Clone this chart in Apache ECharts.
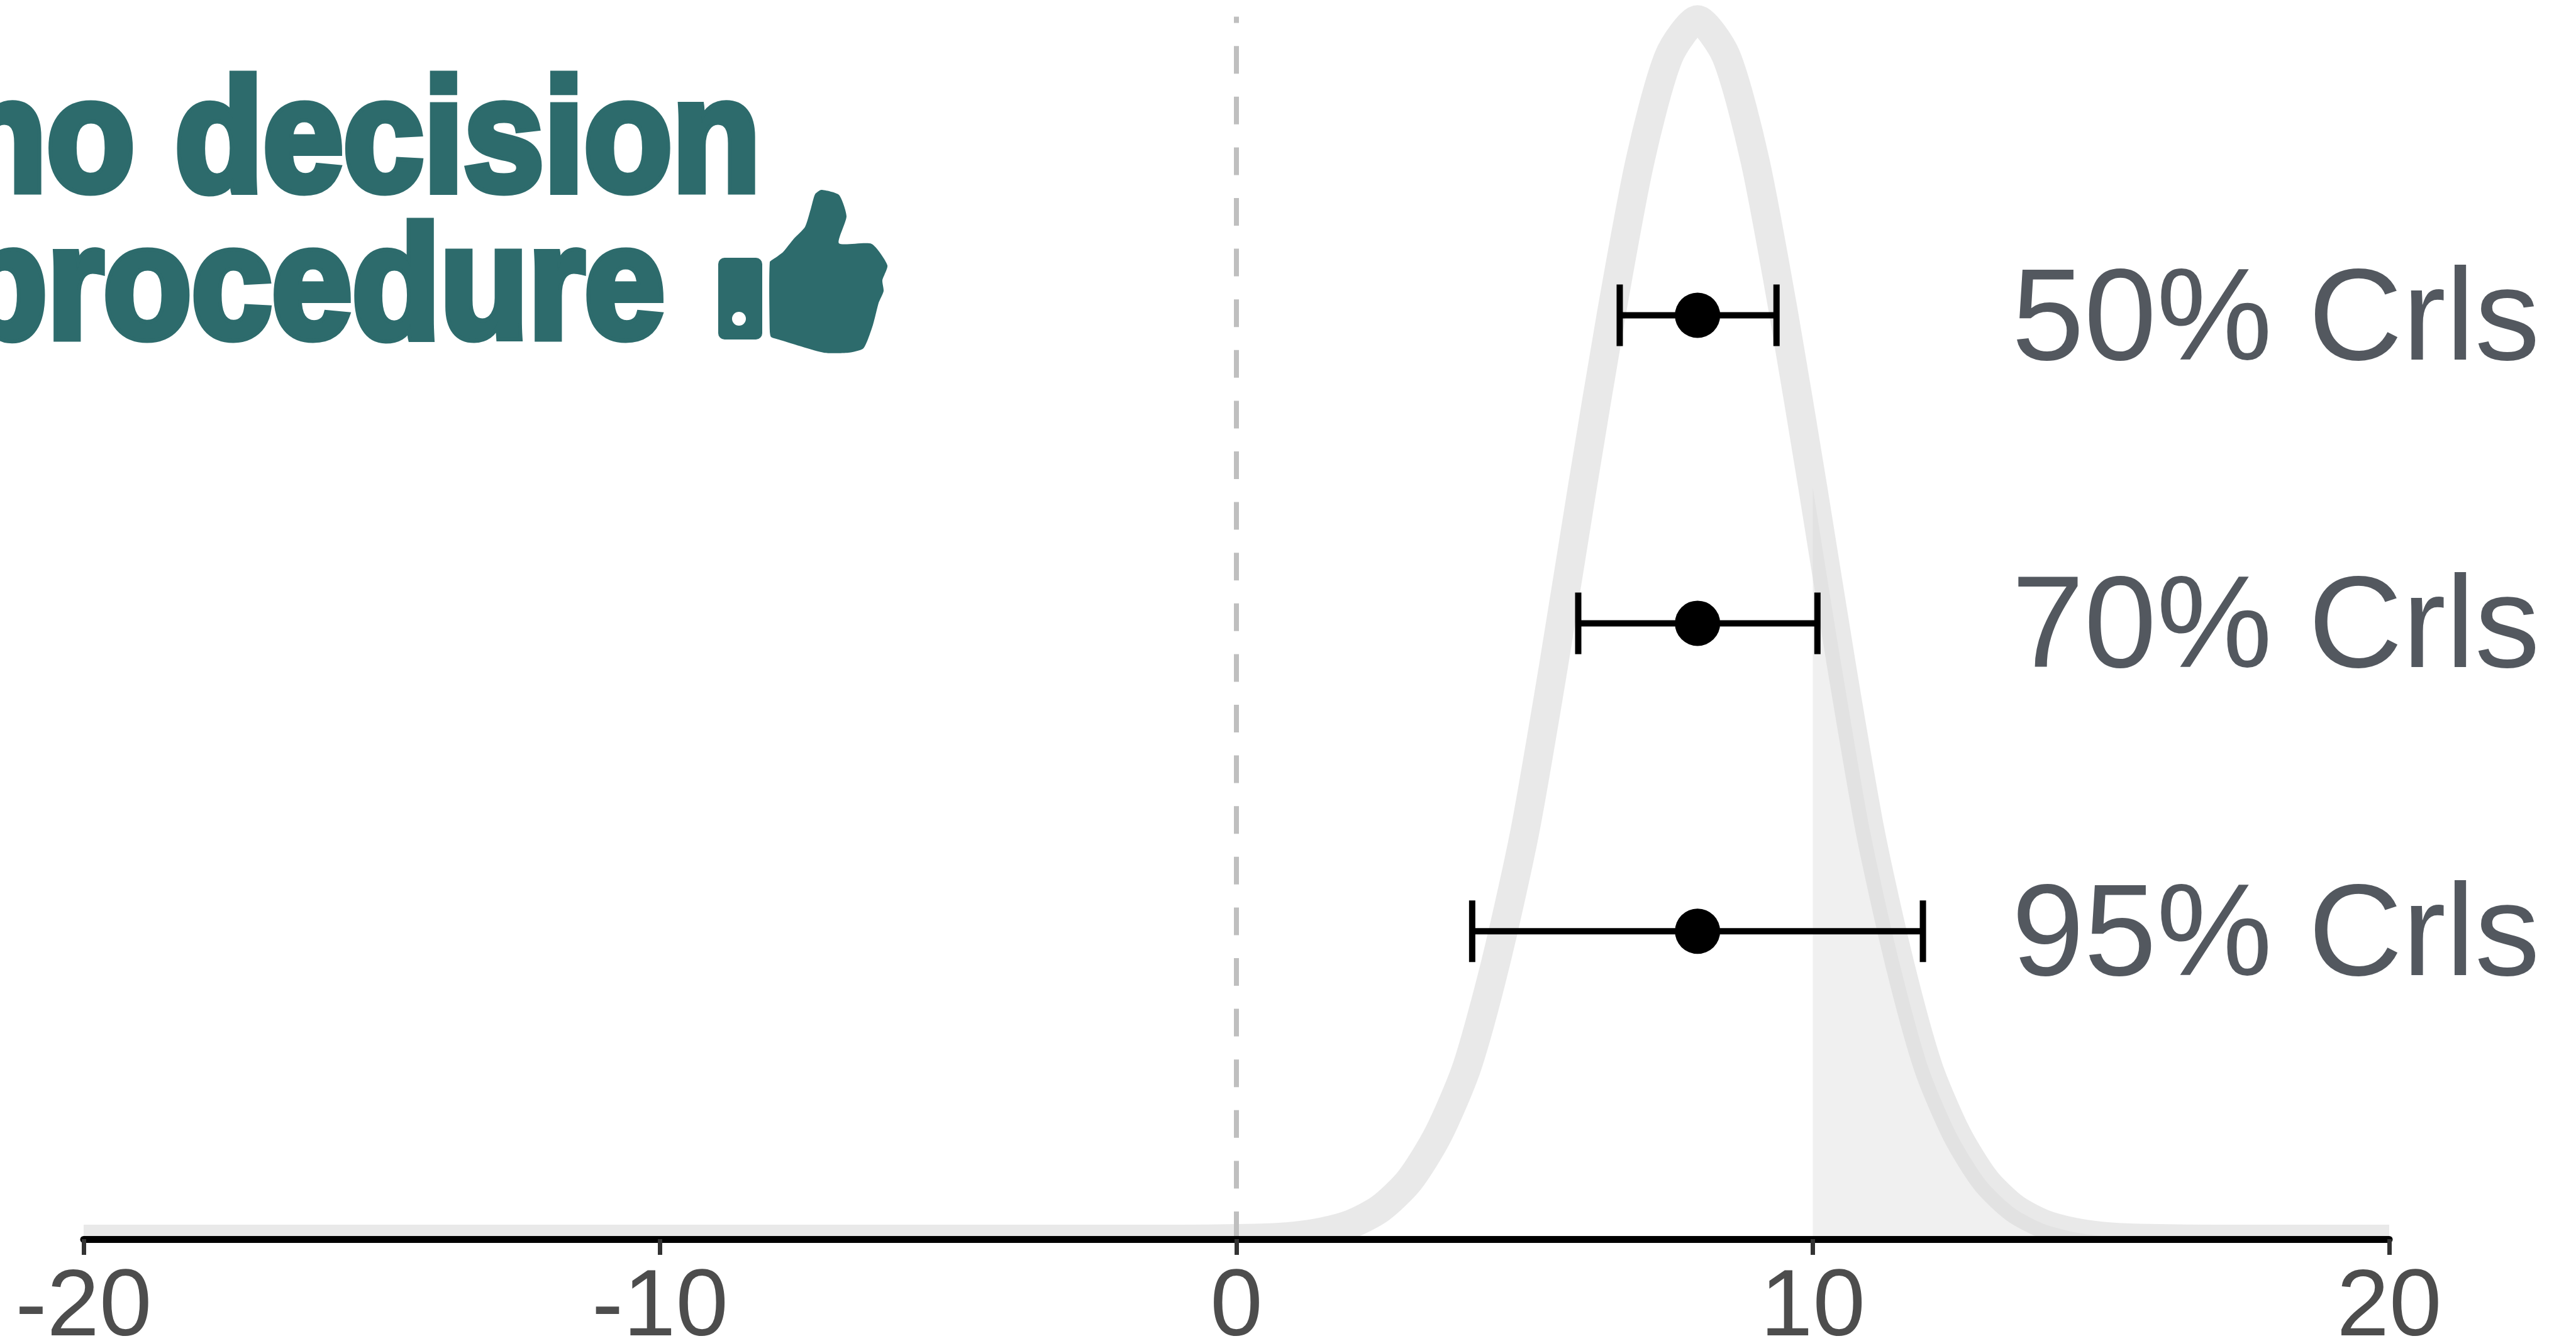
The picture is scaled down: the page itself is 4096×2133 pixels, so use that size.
<!DOCTYPE html>
<html>
<head>
<meta charset="utf-8">
<style>
  html, body { margin: 0; padding: 0; background: #fff; }
  #chart { width: 4096px; height: 2133px; }
</style>
<script src="https://cdn.jsdelivr.net/npm/echarts@6/dist/echarts.min.js"></script>
</head>
<body>
<div id="chart"></div>
<script>
// values
var curveX = [-20, -10, -1, 0, 0.5, 1, 1.5, 2, 2.5, 3, 3.5, 4, 4.5, 5, 5.5, 6, 6.5, 7, 7.5, 8, 8.5, 9, 9.5, 10, 10.5, 11, 11.5, 12, 12.5, 13, 13.5, 14, 14.5, 15, 15.5, 16, 17, 20]
var curveDensity = [0, 0, 0, 0.0001, 0.0002, 0.0005, 0.0012, 0.0025, 0.005, 0.0095, 0.017, 0.028, 0.045, 0.066, 0.093, 0.122, 0.15, 0.175, 0.192, 0.198, 0.192, 0.175, 0.15, 0.122, 0.093, 0.066, 0.045, 0.028, 0.017, 0.0095, 0.005, 0.0025, 0.0012, 0.0005, 0.0002, 0.0001, 0, 0]
var shadeFrom = 10
var refLineX = [0, 0]
var refLineY = [0, 0.1985]

var intervalNames = ['50% Crls', '70% Crls', '95% Crls']
var intervalLevel = [0.15, 0.1, 0.05]
var intervalLow = [6.65, 5.93, 4.09]
var intervalHigh = [9.37, 10.08, 11.91]
var intervalMedian = [8, 8, 8]

var titleLines = ['no decision', 'procedure']

var chart = echarts.init(document.getElementById('chart'))

var curveData = curveX.map(function(x, i) { return [x, curveDensity[i]] })
var shadeData = curveData.filter(function(p) { return p[0] >= shadeFrom })
var refData = refLineX.map(function(x, i) { return [x, refLineY[i]] })
var intervalData = intervalNames.map(function(name, i) {
  return [intervalLow[i], intervalHigh[i], intervalMedian[i], intervalLevel[i], name]
})

// whisker, caps, dot and label for one interval
function renderInterval(params, api) {
  var y = api.coord([0, api.value(3)])[1]
  var x0 = api.coord([api.value(0), 0])[0]
  var x1 = api.coord([api.value(1), 0])[0]
  var xm = api.coord([api.value(2), 0])[0]
  var xt = api.coord([13.45, 0])[0]
  var line = { stroke: '#000', lineWidth: 10 }
  return {
    type: 'group',
    children: [
      { type: 'line', shape: { x1: x0, y1: y, x2: x1, y2: y }, style: line },
      { type: 'line', shape: { x1: x0, y1: y - 49, x2: x0, y2: y + 49 }, style: line },
      { type: 'line', shape: { x1: x1, y1: y - 49, x2: x1, y2: y + 49 }, style: line },
      { type: 'circle', shape: { cx: xm, cy: y, r: 36 }, style: { fill: '#000' } },
      {
        type: 'text',
        x: xt,
        y: y + 13,
        style: {
          text: intervalNames[params.dataIndex],
          fill: '#53585f',
          font: '207px "Liberation Sans"',
          align: 'left',
          verticalAlign: 'middle'
        }
      }
    ]
  }
}

var titleStyle = {
  fill: '#2d6b6c',
  stroke: '#2d6b6c',
  lineWidth: 13,
  font: 'bold 255px "Liberation Sans"',
  align: 'right',
  verticalAlign: 'bottom'
}

chart.setOption({
  animation: false,
  backgroundColor: '#fff',
  grid: { left: 133, right: 297, top: 0, bottom: 162, outerBoundsMode: 'none' },
  xAxis: {
    type: 'value',
    min: -20,
    max: 20,
    interval: 10,
    z: 5,
    splitLine: { show: false },
    axisLine: { show: true, onZero: false, lineStyle: { color: '#000', width: 11 } },
    axisTick: { show: true, length: 25, lineStyle: { color: '#333', width: 7 } },
    axisLabel: {
      show: true,
      margin: 37,
      color: '#4d4d4d',
      fontSize: 150,
      fontFamily: 'Liberation Sans',
      showMinLabel: true,
      showMaxLabel: true
    }
  },
  yAxis: { type: 'value', min: 0, max: 0.2012, show: false },
  series: [
    {
      name: 'shade',
      type: 'line',
      z: 1,
      data: shadeData,
      smooth: 0.25,
      showSymbol: false,
      lineStyle: { width: 0 },
      areaStyle: { color: '#f0f0f0', opacity: 1 }
    },
    {
      name: 'posterior',
      type: 'line',
      z: 2,
      data: curveData,
      smooth: 0.25,
      showSymbol: false,
      lineStyle: { color: 'rgba(215,215,215,0.55)', width: 46, join: 'round', cap: 'butt' }
    },
    {
      name: 'zero',
      type: 'line',
      z: 3,
      data: refData,
      showSymbol: false,
      lineStyle: { color: '#bfbfbf', width: 8, type: [44, 36.6] }
    },
    {
      name: 'intervals',
      type: 'custom',
      z: 6,
      clip: false,
      data: intervalData,
      encode: { x: [0, 1, 2], y: 3 },
      renderItem: renderInterval
    }
  ],
  graphic: [
    // hides the lower half of the curve's stroke below the axis
    { type: 'rect', z: 4, shape: { x: 60, y: 1971, width: 3820, height: 162 }, style: { fill: '#fff' } },
    { type: 'text', z: 7, x: 1209, y: 360, scaleX: 0.9, style: Object.assign({ text: titleLines[0] }, titleStyle) },
    { type: 'text', z: 7, x: 1057, y: 594, scaleX: 0.9, style: Object.assign({ text: titleLines[1] }, titleStyle) },
    // thumbs up
    { type: 'rect', z: 7, shape: { x: 1142, y: 410, width: 70, height: 130, r: 10 }, style: { fill: '#2d6b6c' } },
    { type: 'circle', z: 8, shape: { cx: 1175, cy: 507, r: 11 }, style: { fill: '#fff' } },
    {
      type: 'polygon',
      z: 7,
      shape: {
        smooth: 0.2,
        points: [[1224, 417], [1233, 410], [1245, 401], [1262, 380], [1280, 361], [1289, 333], [1296, 309], [1306, 302],
          [1334, 310], [1346, 344], [1334, 387], [1386, 388], [1411, 422], [1403, 446], [1405, 463], [1397, 482],
          [1388, 517], [1373, 554], [1349, 561], [1310, 561], [1238, 540], [1226, 536], [1224, 527]]
      },
      style: { fill: '#2d6b6c' }
    }
  ]
})
</script>
</body>
</html>
